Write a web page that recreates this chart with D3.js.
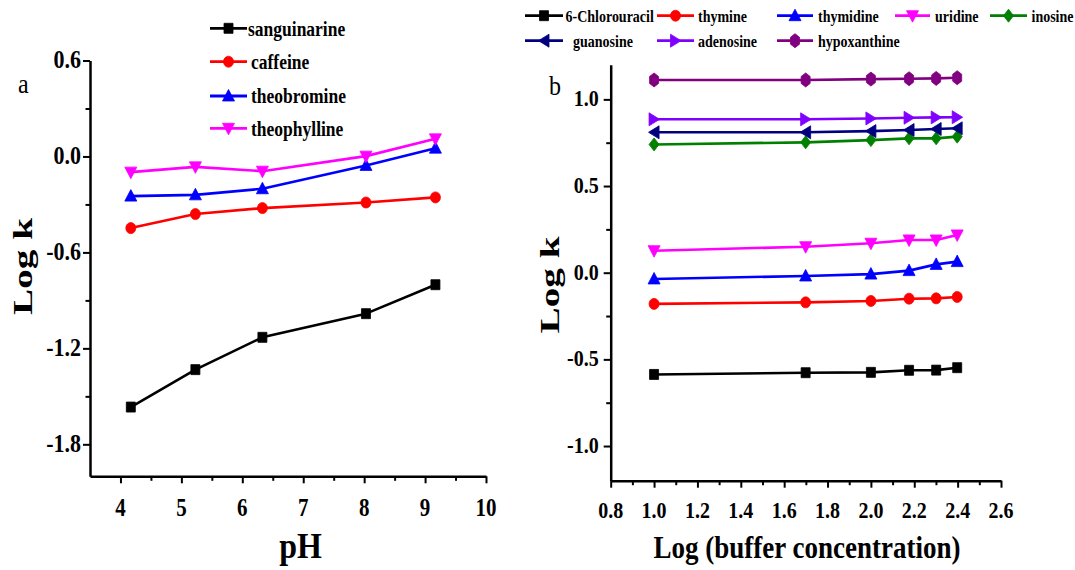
<!DOCTYPE html>
<html><head><meta charset="utf-8">
<script src="https://cdn.jsdelivr.net/npm/d3@7"></script>
<style>html,body{margin:0;padding:0;background:#fff;}svg{display:block;}</style>
</head><body>
<svg id="c" width="1075" height="570"></svg>
<script>
// ---------- Panel a data ----------
const phValues = [4.17, 5.23, 6.33, 8.03, 9.17];
const sanguinarine = [-1.567, -1.333, -1.131, -0.983, -0.802];
const caffeine = [-0.448, -0.360, -0.323, -0.288, -0.256];
const theobromine = [-0.248, -0.240, -0.202, -0.056, 0.052];
const theophylline = [-0.098, -0.065, -0.092, 0.002, 0.110];
const seriesA = ["sanguinarine", "caffeine", "theobromine", "theophylline"];
const xTicksA = [4, 5, 6, 7, 8, 9, 10];
const yTicksA = [0.6, 0.0, -0.6, -1.2, -1.8];

// ---------- Panel b data ----------
const bufferLog = [1.0, 1.699, 2.0, 2.176, 2.301, 2.398];
const chlorouracil = [-0.587, -0.577, -0.575, -0.563, -0.562, -0.548];
const thymine = [-0.180, -0.171, -0.163, -0.150, -0.148, -0.140];
const thymidine = [-0.036, -0.019, -0.008, 0.012, 0.048, 0.064];
const uridine = [0.127, 0.150, 0.170, 0.189, 0.189, 0.218];
const inosine = [0.740, 0.752, 0.765, 0.775, 0.775, 0.785];
const guanosine = [0.810, 0.810, 0.817, 0.823, 0.829, 0.833];
const adenosine = [0.885, 0.885, 0.890, 0.894, 0.896, 0.897];
const hypoxanthine = [1.112, 1.112, 1.117, 1.119, 1.121, 1.125];
const seriesB = ["6-Chlorouracil", "thymine", "thymidine", "uridine", "inosine", "guanosine", "adenosine", "hypoxanthine"];
const xTicksB = [0.8, 1.0, 1.2, 1.4, 1.6, 1.8, 2.0, 2.2, 2.4, 2.6];
const yTicksB = [1.0, 0.5, 0.0, -0.5, -1.0];

const colorsA = ["#000000", "#ff0000", "#0000ff", "#ff00ff"];
const shapesA = ["square", "circle", "tri-up", "tri-down"];
const colorsB = ["#000000", "#ff0000", "#0000ff", "#ff00ff", "#008000", "#000080", "#8000ff", "#800080"];
const shapesB = ["square", "circle", "tri-up", "tri-down", "diamond", "tri-left", "tri-right", "hexagon"];
const valuesA = [sanguinarine, caffeine, theobromine, theophylline];
const valuesB = [chlorouracil, thymine, thymidine, uridine, inosine, guanosine, adenosine, hypoxanthine];

const FONT = "'Liberation Serif','Times New Roman',Times,serif";
const svg = d3.select("#c");

function shapePath(s) {
  switch (s) {
    case "square": return "M-4.5,-5H4.5V5H-4.5Z";
    case "circle": return "M-5,0A5,5.5 0 1,0 5,0A5,5.5 0 1,0 -5,0Z";
    case "tri-up": return "M0,-6.5L6,5L-6,5Z";
    case "tri-down": return "M0,6.5L6,-5L-6,-5Z";
    case "diamond": return "M0,-6.5L5,0L0,6.5L-5,0Z";
    case "tri-left": return "M-5.5,0L5,-6.5L5,6.5Z";
    case "tri-right": return "M5.5,0L-5,-6.5L-5,6.5Z";
    case "hexagon": return "M0,-7L4.5,-3.5L4.5,3.5L0,7L-4.5,3.5L-4.5,-3.5Z";
  }
}

function txt(g, x, y, s, o) {
  o = o || {};
  const t = g.append("text")
    .attr("transform", `translate(${x},${y})` + (o.rot ? ` rotate(${o.rot})` : "") + ` scale(${o.sx || 1},${o.sy || 1})`)
    .attr("font-family", FONT)
    .attr("font-size", o.size || 16)
    .attr("font-weight", o.weight || "bold")
    .attr("text-anchor", o.anchor || "start")
    .attr("fill", "#000")
    .text(s);
  if (o.dy) t.attr("dy", o.dy);
  return t;
}

function drawAxes(g, x, y, xMaj, xMin, yMaj, yMin, xfmt, yfmt, cfg) {
  const [x0, x1] = x.range();
  const [y0, y1] = y.range();
  g.append("g").attr("transform", `translate(0,${y0})`)
    .call(d3.axisBottom(x).tickValues(xMin).tickSize(cfg.minor).tickSizeOuter(0).tickFormat(""))
    .call(a => a.select(".domain").remove())
    .call(a => a.selectAll("line").attr("stroke-width", 2));
  g.append("g").attr("transform", `translate(${x0},0)`)
    .call(d3.axisLeft(y).tickValues(yMin).tickSize(cfg.minor).tickSizeOuter(0).tickFormat(""))
    .call(a => a.select(".domain").remove())
    .call(a => a.selectAll("line").attr("stroke-width", 2));
  g.append("g").attr("transform", `translate(0,${y0})`)
    .call(d3.axisBottom(x).tickValues(xMaj).tickSize(cfg.major).tickSizeOuter(0).tickFormat(""))
    .call(a => a.select(".domain").attr("stroke-width", 2.5))
    .call(a => a.selectAll("line").attr("stroke-width", 2));
  g.append("g").attr("transform", `translate(${x0},0)`)
    .call(d3.axisLeft(y).tickValues(yMaj).tickSize(cfg.major).tickSizeOuter(0).tickFormat(""))
    .call(a => a.select(".domain").attr("stroke-width", 2.5))
    .call(a => a.selectAll("line").attr("stroke-width", 2));
  xMaj.forEach(v => txt(g, x(v), cfg.xLabBase, xfmt(v), {size: cfg.xSize, anchor: "middle", sy: cfg.sy}));
  yMaj.forEach(v => txt(g, x0 - cfg.major - cfg.yPad, y(v) + cfg.yOff, yfmt(v), {size: cfg.ySize, anchor: "end", sy: cfg.sy}));
}

function drawSeries(g, x, y, xs, vals, color, shape) {
  const pts = xs.map((d, i) => [d, vals[i]]);
  g.append("path").datum(pts)
    .attr("fill", "none").attr("stroke", color).attr("stroke-width", 2.6)
    .attr("stroke-linejoin", "round")
    .attr("d", d3.line().x(d => x(d[0])).y(d => y(d[1])));
  g.selectAll(null).data(pts).enter().append("path")
    .attr("transform", d => `translate(${x(d[0])},${y(d[1])})`)
    .attr("d", shapePath(shape)).attr("fill", color).attr("stroke", color).attr("stroke-width", 0.8);
}

function legendItem(g, x0, x1, yy, color, shape, label, tx, size, sy) {
  g.append("line").attr("x1", x0).attr("x2", x1).attr("y1", yy).attr("y2", yy)
    .attr("stroke", color).attr("stroke-width", 2.8);
  g.append("path").attr("transform", `translate(${(x0 + x1) / 2},${yy})`)
    .attr("d", shapePath(shape)).attr("fill", color).attr("stroke", color).attr("stroke-width", 0.8);
  txt(g, tx, yy, label, {size: size, sy: sy, dy: "0.35em"});
}

// ================= Panel a =================
const gA = svg.append("g");
const xA = d3.scaleLinear().domain([3.5, 10]).range([90, 486]);
const yA = d3.scaleLinear().domain([-2.0, 0.6]).range([476.3, 60.5]);
drawAxes(gA, xA, yA, xTicksA, d3.range(4.5, 10, 1), yTicksA, [0.3, -0.3, -0.9, -1.5],
  d => String(d), d => d3.format(".1f")(d).replace("−", "-"),
  {major: 7, minor: 4.5, xLabBase: 516, xSize: 21, ySize: 22, yPad: 2, yOff: 7.5, sy: 1.18});
valuesA.forEach((v, i) => drawSeries(gA, xA, yA, phValues, v, colorsA[i], shapesA[i]));
const legRowsA = [28.3, 61.7, 96, 128.3];
seriesA.forEach((n, i) => legendItem(gA, 210, 247, legRowsA[i], colorsA[i], shapesA[i], n, i === 0 ? 248 : 251, 17.5, 1.22));
txt(gA, 18, 93, "a", {size: 24, weight: "normal", sy: 1.15});
txt(gA, 300.5, 558, "pH", {size: 32, anchor: "middle", sy: 1.12});
txt(gA, 32, 266.5, "Log k", {size: 28, anchor: "middle", rot: -90, sx: 1.4});

// ================= Panel b =================
const gB = svg.append("g");
const xB = d3.scaleLinear().domain([0.8, 2.6]).range([610.7, 1001]);
const yB = d3.scaleLinear().domain([-1.2, 1.2]).range([480.7, 64.7]);
drawAxes(gB, xB, yB, xTicksB, d3.range(0.9, 2.6, 0.2).map(v => +v.toFixed(1)), yTicksB, [0.75, 0.25, -0.25, -0.75],
  d => d3.format(".1f")(d), d => d3.format(".1f")(d).replace("−", "-"),
  {major: 7, minor: 4.5, xLabBase: 518, xSize: 20, ySize: 20, yPad: 5, yOff: 7, sy: 1.18});
valuesB.forEach((v, i) => drawSeries(gB, xB, yB, bufferLog, v, colorsB[i], shapesB[i]));
const legColsB = [[525, 563, 565.5], [657, 694, 698], [777, 813, 818], [895, 930, 935], [990, 1027, 1031.5]];
const legRowsB = [15.7, 40.7];
const legPosB = [[0, 0], [1, 0], [2, 0], [3, 0], [4, 0], [0, 1], [1, 1], [2, 1]];
seriesB.forEach((n, i) => {
  const [c, r] = legPosB[i];
  const col = legColsB[c];
  const tx = (i === 5) ? 573 : col[2];
  legendItem(gB, col[0], col[1], legRowsB[r], colorsB[i], shapesB[i], n, tx, 14, 1.2);
});
txt(gB, 549, 95, "b", {size: 24, weight: "normal", sy: 1.15});
txt(gB, 807, 558, "Log (buffer concentration)", {size: 27, anchor: "middle", sy: 1.2});
txt(gB, 559, 285, "Log k", {size: 28, anchor: "middle", rot: -90, sx: 1.4});
</script>
</body></html>
